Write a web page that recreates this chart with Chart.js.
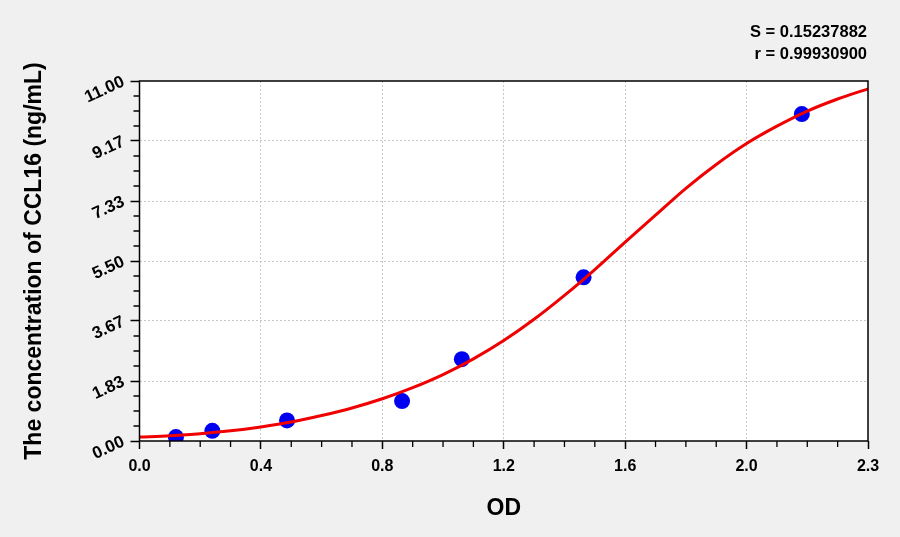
<!DOCTYPE html>
<html><head><meta charset="utf-8">
<script src="https://cdn.jsdelivr.net/npm/chart.js@4.4.0/dist/chart.umd.min.js"></script>
<style>html,body{margin:0;padding:0;background:#f0f0f0;overflow:hidden;}</style>
</head><body>
<canvas id="c" width="900" height="537"></canvas>
<script>
// Standards (measured points)
const stdOD   = [0.120, 0.240, 0.486, 0.865, 1.062, 1.463, 2.182];
const stdConc = [0.12, 0.31, 0.63, 1.22, 2.50, 5.00, 9.99];
// Fitted curve
const curveOD   = [0.0, 0.1, 0.2, 0.3, 0.4, 0.5, 0.6, 0.7, 0.8, 0.9, 1.0, 1.1, 1.2, 1.3, 1.4, 1.5, 1.6, 1.7, 1.8, 1.9, 2.0, 2.1, 2.2, 2.3, 2.4];
const curveConc = [0.12, 0.16, 0.22, 0.31, 0.43, 0.58, 0.78, 1.01, 1.29, 1.63, 2.03, 2.51, 3.07, 3.72, 4.45, 5.24, 6.08, 6.90, 7.72, 8.45, 9.09, 9.62, 10.08, 10.45, 10.76];
// Axis ticks
const xTickValues = [0.0, 0.4, 0.8, 1.2, 1.6, 2.0, 2.4];
const xTickLabels = ['0.0', '0.4', '0.8', '1.2', '1.6', '2.0', '2.3'];
const yTickValues = [0, 1.83333, 3.66667, 5.5, 7.33333, 9.16667, 11];
const yTickLabels = ['0.00', '1.83', '3.67', '5.50', '7.33', '9.17', '11.00'];
const fitStats = ['S = 0.15237882', 'r = 0.99930900'];
const xTitle = 'OD';
const yTitle = 'The concentration of CCL16 (ng/mL)';

const FONT = "'Liberation Sans', Arial, sans-serif";

const plotBg = {
  id: 'plotBg',
  beforeDraw(chart) {
    const {ctx, chartArea: a} = chart;
    ctx.save();
    ctx.fillStyle = '#f0f0f0';
    ctx.fillRect(0, 0, chart.width, chart.height);
    ctx.fillStyle = '#ffffff';
    ctx.fillRect(a.left, a.top, a.right - a.left, a.bottom - a.top);
    ctx.restore();
  },
  afterDraw(chart) {
    const {ctx, chartArea: a, scales} = chart;
    ctx.save();
    // frame
    ctx.strokeStyle = '#000';
    ctx.lineWidth = 1.5;
    ctx.strokeRect(a.left, a.top, a.right - a.left, a.bottom - a.top);
    // minor ticks (3 between majors)
    ctx.lineWidth = 1.3;
    ctx.beginPath();
    for (let i = 0; i < xTickValues.length - 1; i++) {
      for (let k = 1; k < 4; k++) {
        const v = xTickValues[i] + (xTickValues[i + 1] - xTickValues[i]) * k / 4;
        const px = scales.x.getPixelForValue(v);
        ctx.moveTo(px, a.bottom); ctx.lineTo(px, a.bottom + 6);
      }
    }
    for (let i = 0; i < yTickValues.length - 1; i++) {
      for (let k = 1; k < 4; k++) {
        const v = yTickValues[i] + (yTickValues[i + 1] - yTickValues[i]) * k / 4;
        const py = scales.y.getPixelForValue(v);
        ctx.moveTo(a.left, py); ctx.lineTo(a.left - 6, py);
      }
    }
    ctx.stroke();
    // fit statistics
    ctx.fillStyle = '#000';
    ctx.font = 'bold 16.5px ' + FONT;
    ctx.textAlign = 'right';
    ctx.textBaseline = 'alphabetic';
    ctx.fillText(fitStats[0], a.right - 1, 37);
    ctx.fillText(fitStats[1], a.right - 1, 59);
    ctx.restore();
  }
};

new Chart(document.getElementById('c'), {
  type: 'scatter',
  data: {
    datasets: [
      {
        label: 'fit',
        data: curveOD.map((x, i) => ({x, y: curveConc[i]})),
        showLine: true,
        borderColor: '#f00000',
        borderWidth: 3,
        pointRadius: 0,
        cubicInterpolationMode: 'monotone',
        fill: false
      },
      {
        label: 'standards',
        data: stdOD.map((x, i) => ({x, y: stdConc[i]})),
        showLine: false,
        pointRadius: 8,
        pointHoverRadius: 8,
        backgroundColor: '#0000f0',
        borderWidth: 0
      }
    ]
  },
  options: {
    responsive: false,
    animation: false,
    devicePixelRatio: 1,
    layout: {padding: {top: 81, right: 32, left: 0, bottom: 0}},
    plugins: {legend: {display: false}, tooltip: {enabled: false}},
    scales: {
      x: {
        type: 'linear',
        min: 0, max: 2.4,
        afterBuildTicks(s) { s.ticks = xTickValues.map(v => ({value: v})); },
        afterFit(s) { s.height = 96; },
        ticks: {
          callback: (v, i) => xTickLabels[i],
          font: {family: FONT, size: 16, weight: 'bold'},
          color: '#000', padding: 8, autoSkip: false, maxRotation: 0
        },
        grid: {
          color: c => (c.index === 0 || c.index === xTickValues.length - 1) ? 'rgba(0,0,0,0)' : '#c8c8c8',
          lineWidth: 1,
          tickColor: '#000', tickLength: 8, tickWidth: 1.5, tickBorderDash: []
        },
        border: {display: false, dash: [2, 2]},
        title: {display: true, text: xTitle, color: '#000',
          font: {family: FONT, size: 23, weight: 'bold'}, padding: {top: 0, bottom: 15}}
      },
      y: {
        type: 'linear',
        min: 0, max: 11,
        afterBuildTicks(s) { s.ticks = yTickValues.map(v => ({value: v})); },
        afterFit(s) { s.width = 139.5; },
        ticks: {
          callback: (v, i) => yTickLabels[i],
          font: {family: FONT, size: 17, weight: 'bold'},
          color: '#000', padding: 7, autoSkip: false, minRotation: 25, maxRotation: 25
        },
        grid: {
          color: c => (c.index === 0 || c.index === yTickValues.length - 1) ? 'rgba(0,0,0,0)' : '#c8c8c8',
          lineWidth: 1,
          tickColor: '#000', tickLength: 9, tickWidth: 1.5, tickBorderDash: []
        },
        border: {display: false, dash: [2, 2]},
        title: {display: true, text: yTitle, color: '#000',
          font: {family: FONT, size: 23, weight: 'bold'}, padding: {top: 21, bottom: 0}}
      }
    }
  },
  plugins: [plotBg]
});
</script>
</body></html>
